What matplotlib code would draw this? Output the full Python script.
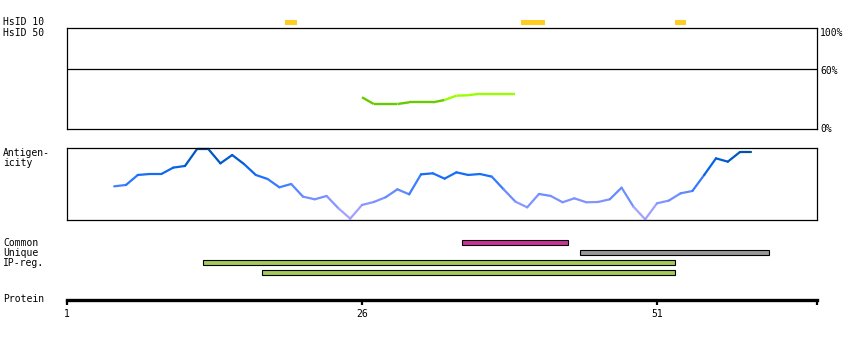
import matplotlib
matplotlib.use("Agg")
import matplotlib.pyplot as plt
import numpy as np
from matplotlib.collections import LineCollection
from matplotlib.colors import LinearSegmentedColormap

# ---------------- data ----------------
protein_start = 1
protein_end = 64.56
tick_positions = [1, 26, 51]
tick_labels = ["1", "26", "51"]

hsid10_regions = [(20, 20), (40, 41), (53, 53)]

hsid50_pos = list(range(26, 40))
hsid50_vals = [31.5, 24.8, 24.8, 24.8, 26.5, 26.5, 26.5, 28.8, 33.1, 33.5,
               35.1, 35.1, 35.1, 35.1]
hsid50_threshold = 60

antigen_pos = list(range(5, 60))
antigen_vals = [0.466, 0.486, 0.630, 0.644, 0.644, 0.736, 0.760, 1.000, 1.000, 0.798,
                0.918, 0.788, 0.630, 0.572, 0.452, 0.500, 0.317, 0.279, 0.327, 0.149,
                0.000, 0.197, 0.240, 0.308, 0.423, 0.351, 0.639, 0.654, 0.577, 0.668,
                0.630, 0.644, 0.606, 0.423, 0.245, 0.163, 0.356, 0.327, 0.236, 0.293,
                0.236, 0.240, 0.279, 0.447, 0.173, -0.010, 0.221, 0.260, 0.365, 0.399,
                0.630, 0.870, 0.822, 0.957, 0.957]

feature_names = ["Common", "Unique", "IP-reg.", "IP-reg."]
feature_starts = [35, 45, 13, 18]
feature_ends = [43, 60, 52, 52]
feature_colors = ["#cc3399", "#999999", "#a5c85a", "#a5c85a"]

FONT = "DejaVu Sans Mono"
FS = 7

W, H = 850, 340
fig = plt.figure(figsize=(W / 100, H / 100), dpi=100)
fig.patch.set_facecolor("white")


def fx(px):
    return px / W


def fy(py):
    return 1 - py / H


X0, X1 = 67, 817
AW = (X1 - X0) / W

# ---------------- HsID 10 track ----------------
ax_h10 = fig.add_axes([fx(X0), fy(27.5), AW, 10 / H])
ax_h10.set_xlim(protein_start, protein_end)
ax_h10.set_ylim(0.5, -0.5)
for s, e in hsid10_regions:
    ax_h10.barh(0, e - s + 1, left=s - 0.5, height=0.5, color="#ffcc22", linewidth=0)
ax_h10.axis("off")

# ---------------- HsID 50 panel ----------------
ax_hs = fig.add_axes([fx(X0), fy(129), AW, (129 - 28.3) / H])
ax_hs.set_xlim(protein_start, protein_end)
ax_hs.set_ylim(0, 100)
ax_hs.set_xticks([])
ax_hs.set_yticks([])
for sp in ax_hs.spines.values():
    sp.set_linewidth(0.9)
ax_hs.axhline(hsid50_threshold, color="black", lw=0.9)
pts = np.column_stack([hsid50_pos, hsid50_vals])
segs = [pts[i:i + 2] for i in range(len(pts) - 1)]
seg_cols = ["#99ff00" if min(hsid50_vals[i], hsid50_vals[i + 1]) > 28 else "#66cc00"
            for i in range(len(pts) - 1)]
ax_hs.add_collection(LineCollection(segs, colors=seg_cols, linewidths=1.7,
                                    capstyle="butt", joinstyle="round"))

# ---------------- Antigenicity panel ----------------
ax_ag = fig.add_axes([fx(X0), fy(220), AW, (220 - 148.3) / H])
ax_ag.set_xlim(protein_start, protein_end)
ax_ag.set_ylim(-0.02, 1.015)
ax_ag.set_xticks([])
ax_ag.set_yticks([])
for sp in ax_ag.spines.values():
    sp.set_linewidth(0.9)
cmap = LinearSegmentedColormap.from_list(
    "ag", [(0.0, "#b4a8ff"), (0.2, "#8c98ff"), (0.4, "#5c88ff"),
           (0.6, "#1a70ff"), (0.8, "#0060dd"), (1.0, "#004ea0")])
apts = np.column_stack([antigen_pos, antigen_vals])
asegs = [apts[i:i + 2] for i in range(len(apts) - 1)]
amid = [(antigen_vals[i] + antigen_vals[i + 1]) / 2 for i in range(len(apts) - 1)]
lc = LineCollection(asegs, cmap=cmap, linewidths=1.6, capstyle="round", joinstyle="round")
lc.set_array(np.array(amid))
lc.set_clim(0, 1)
lc.set_clip_on(False)
ax_ag.add_collection(lc)

# ---------------- feature bars ----------------
ax_feat = fig.add_axes([fx(X0), fy(277.5), AW, 40 / H])
ax_feat.set_xlim(protein_start, protein_end)
ax_feat.set_ylim(3.5, -0.5)
for i, (s, e, c) in enumerate(zip(feature_starts, feature_ends, feature_colors)):
    ax_feat.barh(i, e - s + 1, left=s - 0.5, height=0.45, color=c,
                 edgecolor="black", linewidth=0.8)
ax_feat.axis("off")

# ---------------- protein axis ----------------
ax_p = fig.add_axes([fx(X0), fy(299.5), AW, 0.0001])
ax_p.set_xlim(protein_start, protein_end)
ax_p.set_yticks([])
for name, sp in ax_p.spines.items():
    sp.set_visible(name == "bottom")
ax_p.spines["bottom"].set_linewidth(2.4)
ax_p.set_xticks(tick_positions + [protein_end])
ax_p.set_xticklabels(tick_labels + [""], fontsize=FS, family=FONT)
ax_p.tick_params(axis="x", direction="out", length=3.5, width=1.6, pad=3.5)
ax_p.patch.set_visible(False)

# ---------------- labels ----------------
left_labels = [("HsID 10", 22), ("HsID 50", 32.5), ("Antigen-", 153), ("icity", 162.5),
               ("Common", 242.5), ("Unique", 252.5), ("IP-reg.", 262.5), ("Protein", 298.5)]
for txt, py in left_labels:
    fig.text(fx(3), fy(py), txt, fontsize=FS, family=FONT, va="center", ha="left")

right_labels = [("100%", 32.5), ("60%", 71.3), ("0%", 128.7)]
for txt, py in right_labels:
    fig.text(fx(820), fy(py), txt, fontsize=FS, family=FONT, va="center", ha="left")

fig.savefig("out.png", dpi=100, facecolor="white")
